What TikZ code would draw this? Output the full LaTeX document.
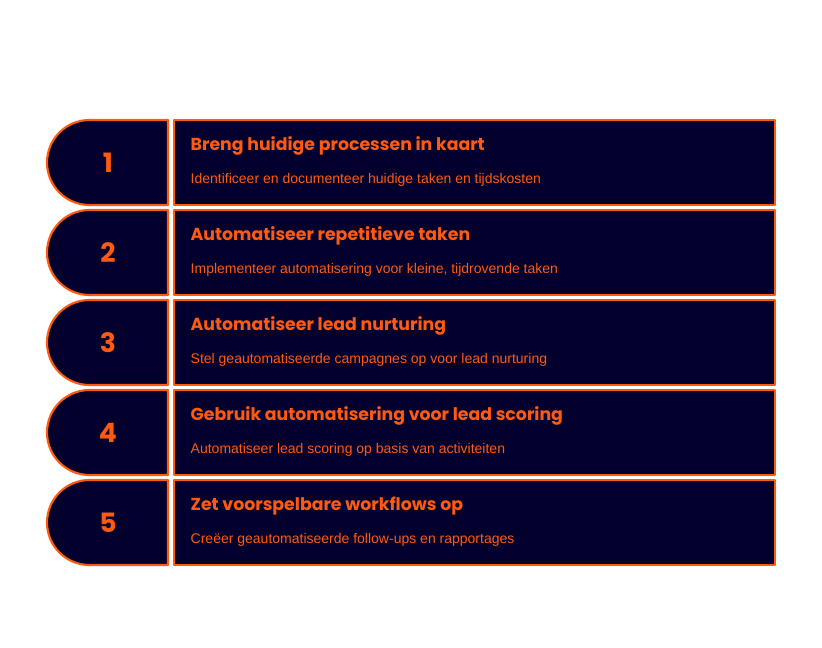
\documentclass[tikz,border=0pt]{standalone}
\usepackage{fontspec}
\setmainfont{Liberation Sans}
\newfontfamily\headf{Poppins}
\definecolor{navy}{HTML}{03002E}
\definecolor{org}{HTML}{FF5A0F}
\begin{document}
\begin{tikzpicture}[x=0.75pt,y=-0.75pt,
  shp/.style={draw=org,fill=navy,line width=1.6pt,line join=round},
  ttl/.style={anchor=west,text=org,font=\headf\bfseries\fontsize{13}{15}\selectfont},
  sub/.style={anchor=west,text=org,font=\fontsize{10.5}{12}\selectfont},
  num/.style={text=org,font=\headf\bfseries\fontsize{20}{22}\selectfont}]
\useasboundingbox (0,0) rectangle (822,648);
\foreach \i/\t/\s in {1/Breng huidige processen in kaart/Identificeer en documenteer huidige taken en tijdskosten,
  2/Automatiseer repetitieve taken/{Implementeer automatisering voor kleine, tijdrovende taken},
  3/Automatiseer lead nurturing/Stel geautomatiseerde campagnes op voor lead nurturing,
  4/Gebruik automatisering voor lead scoring/Automatiseer lead scoring op basis van activiteiten,
  5/Zet voorspelbare workflows op/Creëer geautomatiseerde follow-ups en rapportages}{
  \pgfmathsetmacro\top{120+90*(\i-1)}
  \pgfmathsetmacro\bot{\top+85}
  \pgfmathsetmacro\mid{\top+42.5}
  \draw[shp] (168,\top) -- (89.5,\top) arc(-90:-270:42.5) -- (168,\bot) -- cycle;
  \draw[shp] (174,\top) rectangle (775,\bot);
  \node[num] (n\i) at (108,\mid) {\i};
  \node[ttl] (t\i) at (186,\top+26) {\t};
  \node[sub] (s\i) at (186,\top+60) {\s};
}
\end{tikzpicture}
\end{document}
